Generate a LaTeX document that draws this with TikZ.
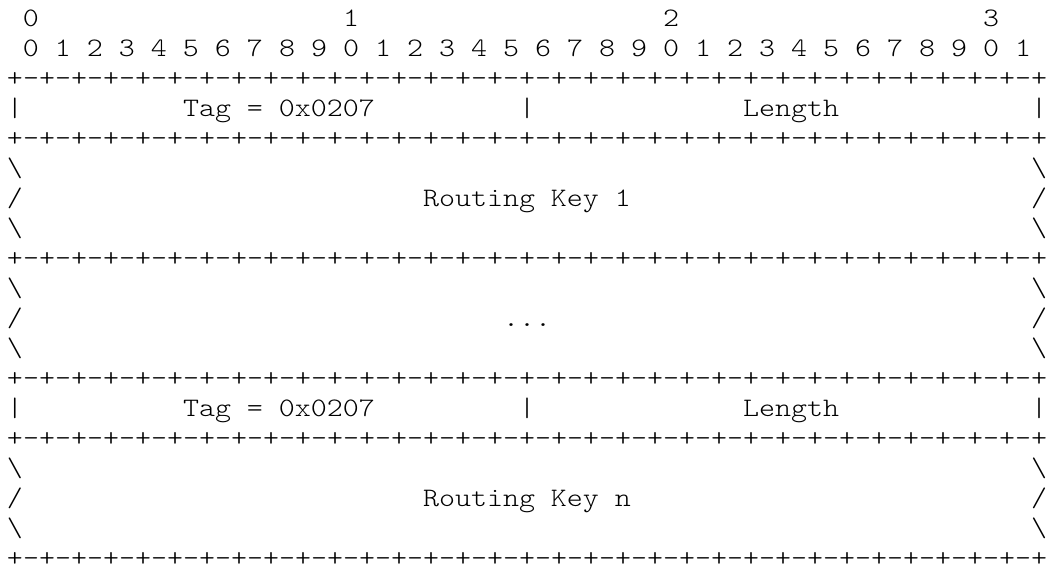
\documentclass[tikz,border=0pt]{standalone}
\usepackage{fontspec}
\newfontfamily\packetmono[Extension=.otf,FakeStretch=1.143]{lmmonolt10-regular}
\usepackage{tikz}
\usetikzlibrary{positioning}

\newcommand\packetfont{\fontsize{20pt}{22.5pt}\selectfont\packetmono\frenchspacing}
\newcommand\bitpairs{+-+-+-+-}
\newcommand\borderline{\bitpairs\bitpairs\bitpairs\bitpairs\bitpairs\bitpairs\bitpairs\bitpairs+}

\begin{document}
\begin{tikzpicture}[x=12pt,y=-22.5pt,
        cell/.style={anchor=base west,inner sep=0pt,outer sep=0pt,font=\packetfont}]
    \useasboundingbox (-5.25pt,20pt) rectangle (780pt,-409pt);

    % bit numbers
    \node[cell] (ten0) at (1,0) {0};
    \node[cell] (ten1) at (21,0) {1};
    \node[cell] (ten2) at (41,0) {2};
    \node[cell] (ten3) at (61,0) {3};
    \node[cell] (bits) at (1,1) {0 1 2 3 4 5 6 7 8 9 0 1 2 3 4 5 6 7 8 9 0 1 2 3 4 5 6 7 8 9 0 1};

    % separator rows
    \foreach \r in {2,4,8,12,14,18}
        \node[cell] (border\r) at (0,\r) {\borderline};

    % tag and length fields
    \foreach \r in {3,13} {
        \node[cell] (left\r) at (0,\r) {|};
        \node[cell] (tag\r) at (11,\r) {Tag = 0x0207};
        \node[cell] (mid\r) at (32,\r) {|};
        \node[cell] (length\r) at (46,\r) {Length};
        \node[cell] (right\r) at (64,\r) {|};
    }

    % variable length parts
    \foreach \r in {5,7,9,11,15,17} {
        \node[cell] (left\r) at (0,\r) {\textbackslash};
        \node[cell] (right\r) at (64,\r) {\textbackslash};
    }
    \foreach \r in {6,10,16} {
        \node[cell] (left\r) at (0,\r) {/};
        \node[cell] (right\r) at (64,\r) {/};
    }
    \node[cell] (key1) at (26,6) {Routing Key 1};
    \node[cell] (dots) at (31,10) {...};
    \node[cell] (keyn) at (26,16) {Routing Key n};

\end{tikzpicture}
\end{document}
